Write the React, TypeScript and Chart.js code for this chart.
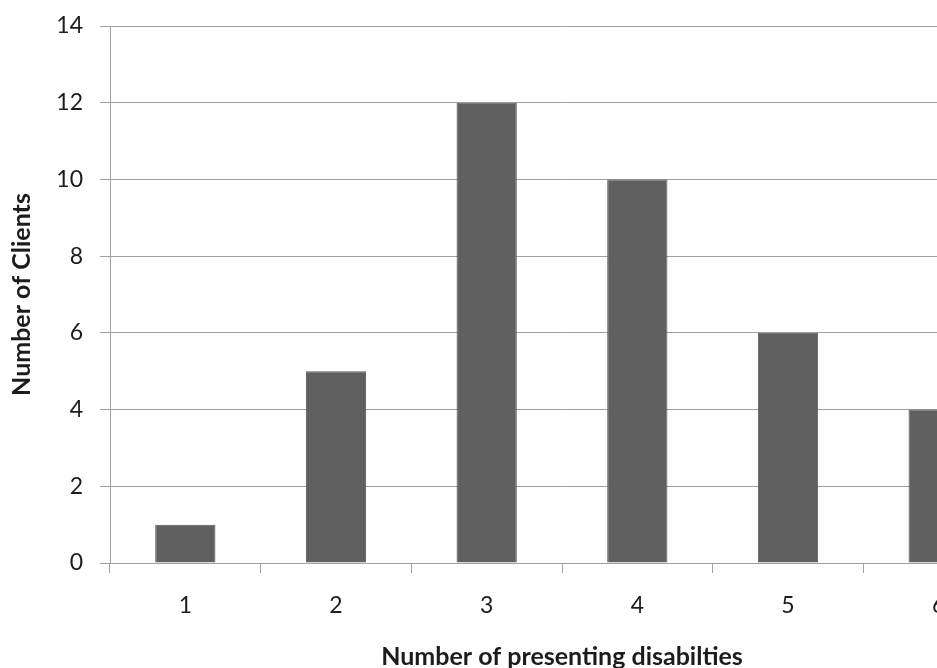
import React, { useEffect, useRef } from "react";
import { Chart, registerables } from "chart.js";

Chart.register(...registerables);

const categories = ["1", "2", "3", "4", "5", "6"];
const clients = [1, 5, 12, 10, 6, 4];
const yMin = 0;
const yMax = 14;
const yStep = 2;
const xTitle = "Number of presenting disabilties";
const yTitle = "Number of Clients";

const W = 1060;
const H = 680;
const GRID = "#a0a0a0";
const TEXT = "#1c1c1c";
const FONT = "Lato";

export default function App() {
  const ref = useRef<HTMLCanvasElement | null>(null);

  useEffect(() => {
    if (!ref.current) return;
    const chart = new Chart(ref.current, {
      type: "bar",
      data: {
        labels: categories,
        datasets: [
          {
            data: clients,
            backgroundColor: "#606060",
            borderColor: "#595959",
            borderWidth: 1,
            barPercentage: 0.4,
            categoryPercentage: 1,
          },
        ],
      },
      options: {
        responsive: false,
        animation: false,
        layout: { padding: { left: 0, right: 46, top: 26, bottom: 0 } },
        plugins: { legend: { display: false }, tooltip: { enabled: false } },
        scales: {
          x: {
            offset: true,
            grid: {
              offset: true,
              drawOnChartArea: false,
              drawTicks: true,
              tickLength: 10,
              color: GRID,
            },
            border: { display: true, color: GRID, width: 1 },
            ticks: {
              color: TEXT,
              font: { family: FONT, size: 23 },
              padding: 19,
            },
            title: {
              display: true,
              text: xTitle,
              color: TEXT,
              font: { family: FONT, size: 25, weight: "bold", lineHeight: 1.2 },
              padding: { top: 0, bottom: 8 },
            },
            afterFit: (s: any) => {
              s.height = 117;
              s.paddingLeft = 0;
              s.paddingRight = 0;
            },
          },
          y: {
            min: yMin,
            max: yMax,
            ticks: {
              stepSize: yStep,
              color: TEXT,
              font: { family: FONT, size: 23 },
              padding: 17,
            },
            grid: { color: GRID, tickLength: 10, drawTicks: true },
            border: { display: true, color: GRID, width: 1 },
            title: {
              display: true,
              text: yTitle,
              color: TEXT,
              font: { family: FONT, size: 25, weight: "bold", lineHeight: 1.2 },
              padding: { top: 7, bottom: 0 },
            },
            afterFit: (s: any) => {
              s.width = 110;
              s.paddingTop = 0;
              s.paddingBottom = 0;
            },
          },
        },
      },
    });
    return () => chart.destroy();
  }, []);

  return (
    <div
      style={{
        position: "fixed",
        left: 0,
        top: 0,
        width: 937,
        height: 668,
        overflow: "hidden",
        background: "#fff",
      }}
    >
      <canvas ref={ref} width={W} height={H} style={{ display: "block" }} />
    </div>
  );
}
